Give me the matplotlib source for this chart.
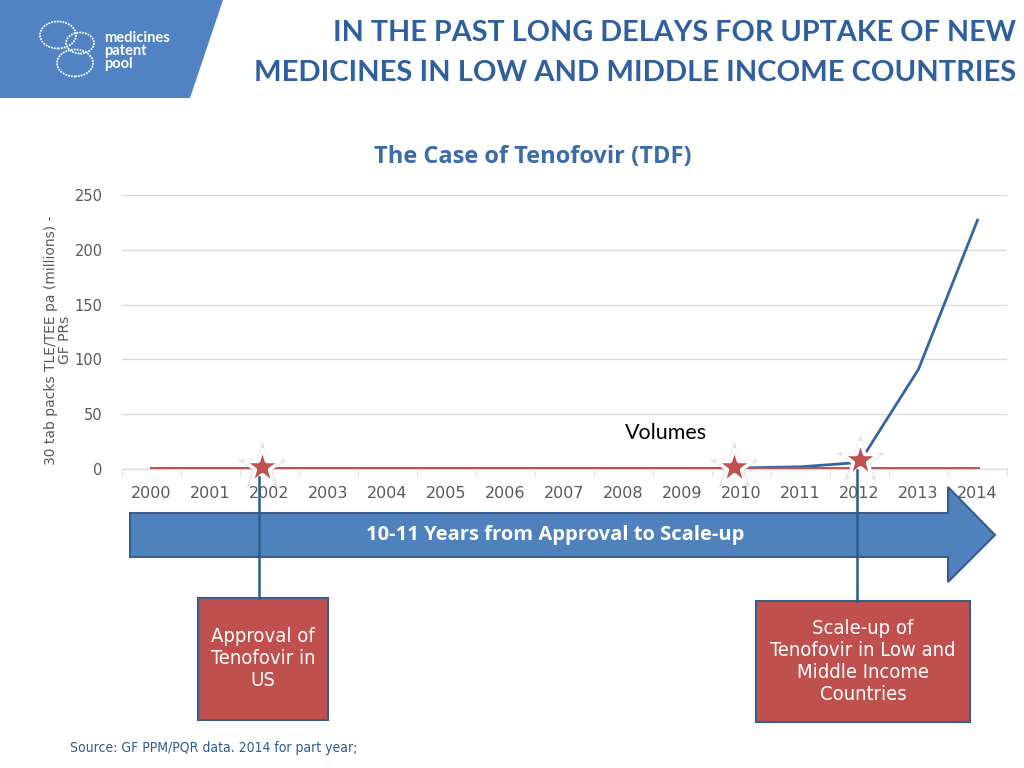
import numpy as np
import matplotlib.pyplot as plt
from matplotlib.patches import Polygon, Rectangle, Circle
from matplotlib.lines import Line2D

# data
years = ["2000", "2001", "2002", "2003", "2004", "2005", "2006", "2007",
         "2008", "2009", "2010", "2011", "2012", "2013", "2014"]
baseline = [0, 0, 0, 0, 0, 0, 0, 0, 0, 0, 0, 0, 0, 0, 0]
volumes = [0, 0, 0, 0, 0, 0, 0, 0, 0, 0, 1, 2, 6, 91, 227]
yticks = [0, 50, 100, 150, 200, 250]
star_pos = [1.87, 9.88, 12.0]
star_val = [2, 2, 8]

W, H = 1024, 768
BLUE = "#4f81bd"
DARK = "#385d8a"
RED = "#c0504d"
HEAD = "#2f5f9e"
GREY = "#595959"


def px(x, y):
    return (x / W, 1 - y / H)


fig = plt.figure(figsize=(10.24, 7.68), dpi=100)

# logo block
fig.add_artist(Polygon([px(0, 0), px(223, 0), px(190, 98), px(0, 98)],
                       closed=True, transform=fig.transFigure,
                       facecolor="#5082c4", edgecolor="none"))
for cx, cy, r in [(58, 35, 18), (80, 43, 14), (75, 63, 18)]:
    fig.add_artist(Circle(px(cx, cy), r / W, transform=fig.transFigure,
                          facecolor="none", edgecolor="white", lw=1.3,
                          linestyle=(0, (1, 0.6))))
fig.text(*px(104, 51), "medicines\npatent\npool", color="white",
         fontsize=10.5, fontweight="bold", family="Lato", va="center",
         ha="left", linespacing=0.9)

# heading
fig.text(*px(1016, 33), "IN THE PAST LONG DELAYS FOR UPTAKE OF NEW",
         ha="right", va="center", fontsize=20.7, fontweight="bold",
         family="Lato", color=HEAD)
fig.text(*px(1016, 73), "MEDICINES IN LOW AND MIDDLE INCOME COUNTRIES",
         ha="right", va="center", fontsize=21, fontweight="bold",
         family="Lato", color=HEAD)

# chart
ax = fig.add_axes([122 / W, 1 - 469 / H, 885 / W, 274 / H])
x = np.arange(len(years))
ax.plot(x, volumes, color="#3465a0", lw=2, zorder=3)
ax.plot(x, baseline, color=RED, lw=2.8, zorder=4)
ax.set_xlim(-0.5, len(years) - 0.5)
ax.set_ylim(0, 250)
ax.set_yticks(yticks)
ax.set_xticks(x)
ax.set_xticklabels(years)
ax.set_xticks(np.arange(-0.5, len(years)), minor=True)
ax.tick_params(axis="x", which="major", length=0, pad=12, labelsize=11.5,
               labelcolor=GREY)
ax.tick_params(axis="x", which="minor", length=5, color="#d9d9d9")
ax.tick_params(axis="y", length=0, pad=14, labelsize=10.5, labelcolor=GREY)
ax.grid(axis="y", color="#d9d9d9", lw=1)
for s in ["top", "right", "left"]:
    ax.spines[s].set_visible(False)
ax.spines["bottom"].set_color("#d9d9d9")
ax.set_axisbelow(True)

# stars
ax.plot(star_pos, star_val, linestyle="none", marker="*", markersize=38,
        markerfacecolor="#c8c8c8", markeredgecolor="none", alpha=0.5,
        zorder=5, clip_on=False)
ax.plot(star_pos, star_val, linestyle="none", marker="*", markersize=28,
        markerfacecolor=RED, markeredgecolor="white", mew=2.5, zorder=6,
        clip_on=False)

fig.text(*px(533, 157), "The Case of Tenofovir (TDF)", ha="center",
         va="center", fontsize=17, fontweight="bold", color="#3b6ba8",
         family="Open Sans")
fig.text(*px(58, 340), "30 tab packs TLE/TEE pa (millions) -\nGF PRs",
         ha="center", va="center", rotation=90, fontsize=10, color=GREY,
         family="DejaVu Sans", linespacing=1.0)
fig.text(*px(666, 433), "Volumes", ha="center", va="center", fontsize=15.5,
         family="Lato", color="black")

# big arrow
fig.add_artist(Polygon([px(130, 513), px(948, 513), px(948, 487),
                        px(995, 535), px(948, 582), px(948, 557),
                        px(130, 557)], closed=True,
                       transform=fig.transFigure, facecolor=BLUE,
                       edgecolor=DARK, lw=1.5))
fig.text(*px(555, 535), "10-11 Years from Approval to Scale-up",
         ha="center", va="center", fontsize=14.5, fontweight="bold",
         color="white", family="Open Sans")

# connectors from the stars to the boxes
inv = fig.transFigure.inverted()
for p, v, ybox in [(star_pos[0], star_val[0], 598), (star_pos[2], star_val[2], 601)]:
    fx, fy = inv.transform(ax.transData.transform((p - 0.05, v)))
    fig.add_artist(Line2D([fx, fx], [fy - 10 / H, px(0, ybox)[1]],
                          transform=fig.transFigure, color="#2f5a8c",
                          lw=1.8, zorder=7))

# boxes
for (x0, y0, x1, y1), txt in [((198, 598, 328, 720), "Approval of\nTenofovir in\nUS"),
                              ((756, 601, 970, 722), "Scale-up of\nTenofovir in Low and\nMiddle Income\nCountries")]:
    fig.add_artist(Rectangle(px(x0, y1), (x1 - x0) / W, (y1 - y0) / H,
                             transform=fig.transFigure, facecolor=RED,
                             edgecolor=DARK, lw=1.5))
    fig.text(*px((x0 + x1) / 2, (y0 + y1) / 2), txt, ha="center",
             va="center", fontsize=14.5, color="white", family="DejaVu Sans",
             fontstretch="condensed", linespacing=1.2)

fig.text(*px(70, 748), "Source: GF PPM/PQR data. 2014 for part year;",
         ha="left", va="center", fontsize=10, color="#2f5a9a",
         family="DejaVu Sans", fontstretch="condensed")

fig.savefig("out.png", dpi=100)
